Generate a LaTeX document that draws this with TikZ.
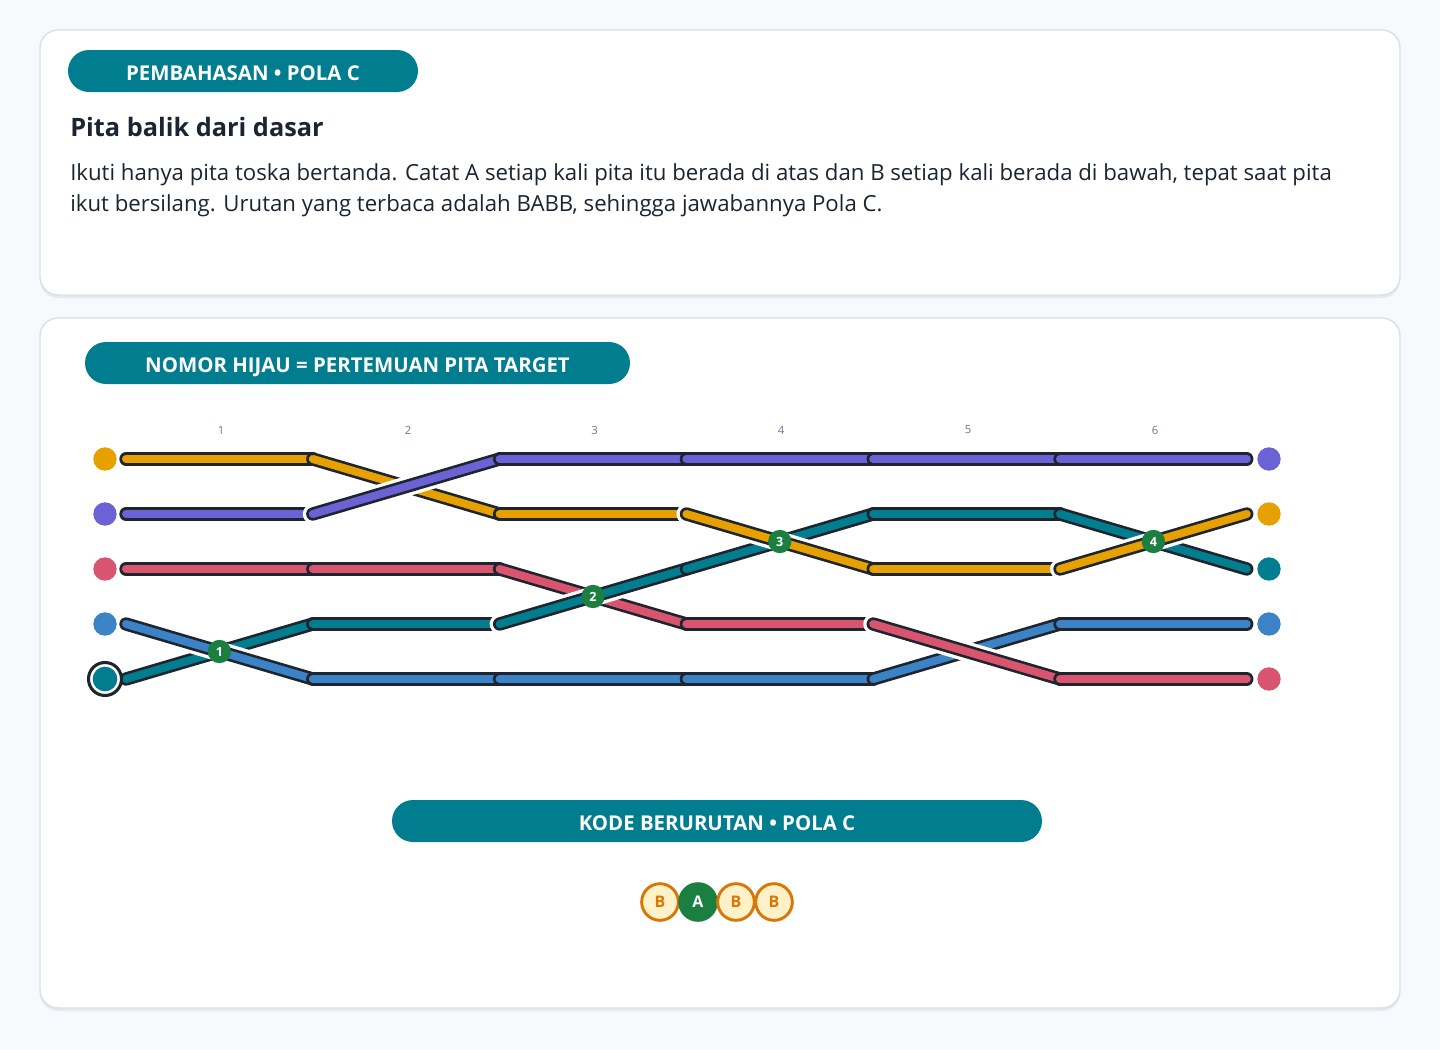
\documentclass[tikz,border=0pt]{standalone}
\usepackage{fontspec}
\usetikzlibrary{calc}
\setmainfont{Open Sans}
\definecolor{bg}{HTML}{F7F9FC}
\definecolor{cardline}{HTML}{D8E1E7}
\definecolor{shadow}{HTML}{E4EAEF}
\definecolor{pill}{HTML}{007D8F}
\definecolor{ink}{HTML}{1B2430}
\definecolor{edge}{HTML}{1E252E}
\definecolor{cOr}{HTML}{E6A000}
\definecolor{cPu}{HTML}{6B62D6}
\definecolor{cRe}{HTML}{D9546F}
\definecolor{cBl}{HTML}{3B82C6}
\definecolor{cTe}{HTML}{007D8F}
\definecolor{mark}{HTML}{1A7F40}
\definecolor{cream}{HTML}{FFF2C8}
\definecolor{amber}{HTML}{D97706}
\definecolor{lbl}{HTML}{6B7890}
\tikzset{
  card/.style={draw=cardline,line width=1.1pt,fill=white,rounded corners=13.5pt},
  cardshadow/.style={fill=shadow,rounded corners=13.5pt},
  pillbox/.style={fill=pill,rounded corners=15.75pt},
  pilltext/.style={text=white,font=\bfseries\fontsize{15.3}{18}\selectfont,anchor=base},
  collabel/.style={text=lbl,font=\fontsize{8.5}{10}\selectfont},
  marker/.style={circle,fill=mark,inner sep=0pt,minimum size=17.5pt,text=white,font=\bfseries\fontsize{9.5}{10}\selectfont},
  enddot/.style={circle,inner sep=0pt,minimum size=17.5pt},
  badge/.style={circle,draw=amber,line width=2.2pt,fill=cream,inner sep=0pt,minimum size=27.5pt,text=amber,font=\bfseries\fontsize{12}{12}\selectfont},
  badgeA/.style={circle,draw=mark,line width=2.2pt,fill=mark,inner sep=0pt,minimum size=27.5pt,text=white,font=\bfseries\fontsize{12}{12}\selectfont},
}
\newcommand\rseg[3]{\draw[line width=10pt,line cap=round,draw=edge] (#2) -- (#3); \draw[line width=6pt,line cap=round,draw=#1] (#2) -- (#3);}
\newcommand\oseg[3]{\draw[line width=15pt,line cap=round,draw=white] (#2) -- (#3); \rseg{#1}{#2}{#3}}
\begin{document}
\begin{tikzpicture}[x=0.75pt,y=-0.75pt]
\fill[bg] (0,0) rectangle (1440,1050);
\useasboundingbox (0,0) rectangle (1440,1050);
% cards
\fill[cardshadow] (40,33) rectangle (1400,298);
\draw[card] (40,30) rectangle (1400,295);
\fill[cardshadow] (40,321) rectangle (1400,1011);
\draw[card] (40,318) rectangle (1400,1008);
% top card
\fill[pillbox] (68,50) rectangle (418,92);
\node[pilltext] (p1) at (243,80) {PEMBAHASAN • POLA C};
\node[anchor=base west,text=ink,font=\bfseries\fontsize{19}{22}\selectfont,inner sep=0pt] (title) at (70,136) {Pita balik dari dasar};
\node[anchor=base west,text=ink,font=\fontsize{16.65}{20}\selectfont,inner sep=0pt] (b1) at (70,180) {Ikuti hanya pita toska bertanda. Catat A setiap kali pita itu berada di atas dan B setiap kali berada di bawah, tepat saat pita};
\node[anchor=base west,text=ink,font=\fontsize{16.65}{20}\selectfont,inner sep=0pt] (b2) at (70,211) {ikut bersilang. Urutan yang terbaca adalah BABB, sehingga jawabannya Pola C.};
% second card
\fill[pillbox] (85,342) rectangle (630,384);
\node[pilltext] (p2) at (357.5,372) {NOMOR HIJAU = PERTEMUAN PITA TARGET};
% grid coordinates
\foreach \c/\x in {0/126,1/312.8,2/499.6,3/686.4,4/873.2,5/1060,6/1246.8}{
  \foreach \r/\y in {1/459,2/514,3/569,4/624,5/679}{
    \coordinate (p\c\r) at (\x,\y);
  }
}
\foreach \i/\x in {1/221,2/408,3/594.5,4/781,5/968,6/1155}{
  \node[collabel] (col\i) at (\x,430) {\i};
}
% column 1
\rseg{cOr}{p01}{p11}
\rseg{cPu}{p02}{p12}
\rseg{cRe}{p03}{p13}
\rseg{cTe}{p05}{p14}
\oseg{cBl}{p04}{p15}
% column 2
\rseg{cRe}{p13}{p23}
\rseg{cTe}{p14}{p24}
\rseg{cBl}{p15}{p25}
\rseg{cOr}{p11}{p22}
\oseg{cPu}{p12}{p21}
% column 3
\rseg{cPu}{p21}{p31}
\rseg{cOr}{p22}{p32}
\rseg{cBl}{p25}{p35}
\rseg{cRe}{p23}{p34}
\oseg{cTe}{p24}{p33}
% column 4
\rseg{cPu}{p31}{p41}
\rseg{cRe}{p34}{p44}
\rseg{cBl}{p35}{p45}
\rseg{cTe}{p33}{p42}
\oseg{cOr}{p32}{p43}
% column 5
\rseg{cPu}{p41}{p51}
\rseg{cTe}{p42}{p52}
\rseg{cOr}{p43}{p53}
\rseg{cBl}{p45}{p54}
\oseg{cRe}{p44}{p55}
% column 6
\rseg{cPu}{p51}{p61}
\rseg{cBl}{p54}{p64}
\rseg{cRe}{p55}{p65}
\rseg{cTe}{p52}{p63}
\oseg{cOr}{p53}{p62}
% markers
\node[marker] (m1) at ($(p04)!0.5!(p15)$) {1};
\node[marker] (m2) at ($(p24)!0.5!(p33)$) {2};
\node[marker] (m3) at ($(p32)!0.5!(p43)$) {3};
\node[marker] (m4) at ($(p53)!0.5!(p62)$) {4};
% end dots
\node[enddot,fill=cOr] (l1) at (105,459) {};
\node[enddot,fill=cPu] (l2) at (105,514) {};
\node[enddot,fill=cRe] (l3) at (105,569) {};
\node[enddot,fill=cBl] (l4) at (105,624) {};
\draw[edge,line width=2.3pt,fill=white] (105,679) circle (16.5);
\node[enddot,fill=cTe,minimum size=18.5pt] (l5) at (105,679) {};
\node[enddot,fill=cPu] (r1) at (1269,459) {};
\node[enddot,fill=cOr] (r2) at (1269,514) {};
\node[enddot,fill=cTe] (r3) at (1269,569) {};
\node[enddot,fill=cBl] (r4) at (1269,624) {};
\node[enddot,fill=cRe] (r5) at (1269,679) {};
% bottom
\fill[pillbox] (392,800) rectangle (1042,842);
\node[pilltext] (p3) at (717,830) {KODE BERURUTAN • POLA C};
\draw[cardline,line width=1pt] (660,902) -- (774,902);
\node[badge] (k1) at (660,902) {B};
\node[badgeA] (k2) at (698,902) {A};
\node[badge] (k3) at (736,902) {B};
\node[badge] (k4) at (774,902) {B};
\end{tikzpicture}
\end{document}
